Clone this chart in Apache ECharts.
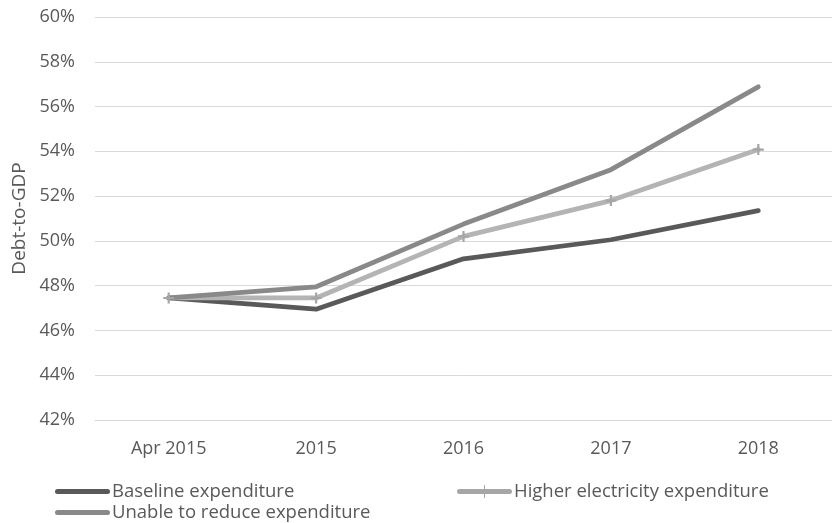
<!DOCTYPE html>
<html>
<head>
<meta charset="utf-8">
<script src="https://cdn.jsdelivr.net/npm/echarts@6/dist/echarts.min.js"></script>
<style>
  html, body { margin: 0; padding: 0; background: #fff; }
  #chart { width: 832px; height: 523px; }
</style>
</head>
<body>
<div id="chart"></div>
<script>
const categories = ['Apr 2015', '2015', '2016', '2017', '2018'];
const baseline = [47.45, 46.95, 49.2, 50.05, 51.35];
const higherElectricity = [47.45, 47.45, 50.2, 51.8, 54.08];
const unableToReduce = [47.45, 47.95, 50.75, 53.18, 56.88];
const yTicks = { min: 42, max: 60, step: 2 };

const textColor = '#595959';
const font = '"Open Sans", "Noto Sans", sans-serif';
const fs = 18;
const plus = 'path://M4,0 L6,0 L6,4 L10,4 L10,6 L6,6 L6,10 L4,10 L4,6 L0,6 L0,4 L4,4 Z';
// legend icons: round-ended bar, and bar with a small cross in the middle
const barIcon = 'path://M2.5,0 L52.5,0 A2.5,2.5 0 0 1 52.5,5 L2.5,5 A2.5,2.5 0 0 1 2.5,0 Z';
const barPlusIcon = 'path://M2.5,4 L27,4 L27,0 L28,0 L28,4 L52.5,4 A2.5,2.5 0 0 1 52.5,9 L28,9 L28,13 L27,13 L27,9 L2.5,9 A2.5,2.5 0 0 1 2.5,4 Z';

const names = ['Baseline expenditure', 'Higher electricity expenditure', 'Unable to reduce expenditure'];

function legendAt(name, icon, h, left, top) {
  return {
    data: [name],
    icon: icon,
    left: left,
    top: top,
    padding: 0,
    itemWidth: 55,
    itemHeight: h,
    itemGap: 2,
    textStyle: { color: textColor, fontSize: 18.5, fontFamily: font, padding: [0, 0, 0, -3] }
  };
}

const chart = echarts.init(document.getElementById('chart'));
chart.setOption({
  animation: false,
  grid: { left: 95, right: -13, top: 17, bottom: 103 },
  legend: [
    legendAt(names[0], barIcon, 5, 55, 482),
    legendAt(names[1], barPlusIcon, 13, 457, 482),
    legendAt(names[2], barIcon, 5, 55, 503)
  ],
  xAxis: {
    type: 'category',
    data: categories,
    boundaryGap: true,
    axisLine: { lineStyle: { color: '#d9d9d9', width: 1 } },
    axisTick: { show: false },
    axisLabel: { color: textColor, fontSize: fs, fontFamily: font, margin: 20 }
  },
  yAxis: {
    type: 'value',
    min: yTicks.min,
    max: yTicks.max,
    interval: yTicks.step,
    name: 'Debt-to-GDP',
    nameLocation: 'middle',
    nameGap: 60,
    nameTextStyle: { color: textColor, fontSize: 19, fontFamily: font },
    axisLine: { show: false },
    axisTick: { show: false },
    axisLabel: { color: textColor, fontSize: fs, fontFamily: font, margin: 20, formatter: '{value}%' },
    splitLine: { lineStyle: { color: '#d9d9d9', width: 1 } }
  },
  series: [
    {
      name: names[0],
      type: 'line',
      data: baseline,
      symbol: 'none',
      color: '#595959',
      lineStyle: { width: 4.75, cap: 'round', join: 'round' }
    },
    {
      name: names[1],
      type: 'line',
      data: higherElectricity,
      symbol: plus,
      symbolSize: 11,
      showAllSymbol: true,
      color: '#b4b4b4',
      itemStyle: { color: '#a6a6a6' },
      lineStyle: { width: 4.75, cap: 'round', join: 'round', color: '#b4b4b4' }
    },
    {
      name: names[2],
      type: 'line',
      data: unableToReduce,
      symbol: 'none',
      color: '#898989',
      lineStyle: { width: 4.75, cap: 'round', join: 'round' }
    }
  ]
});
</script>
</body>
</html>
